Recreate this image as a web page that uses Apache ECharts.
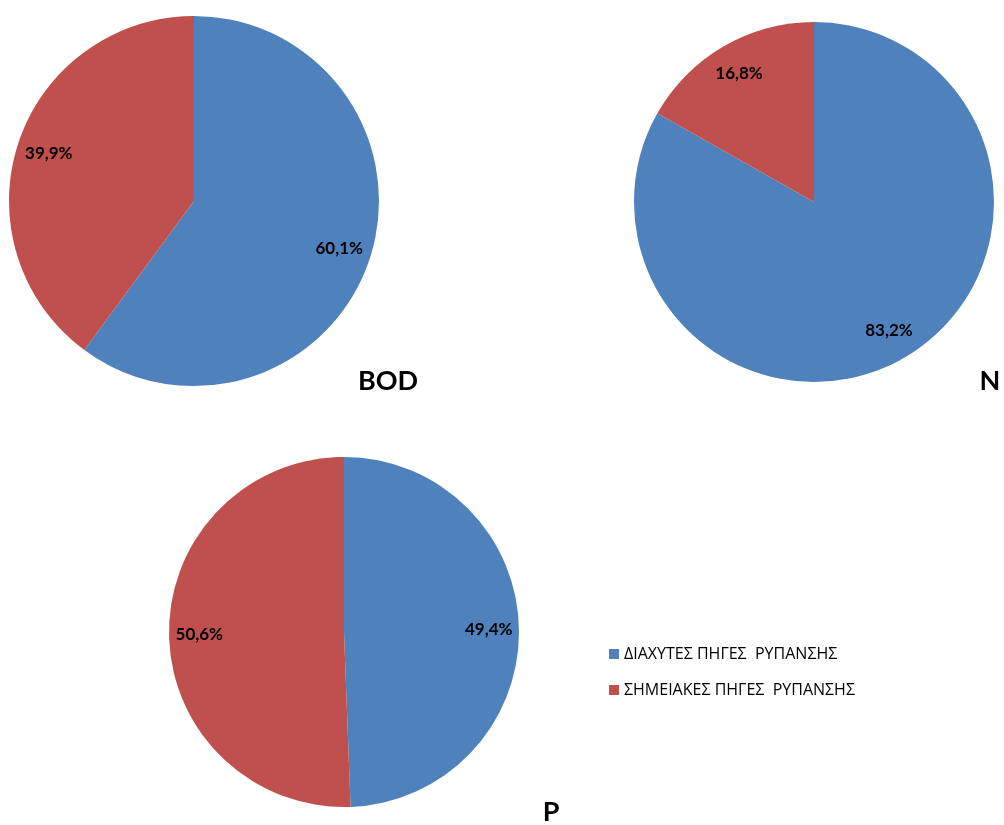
<!DOCTYPE html>
<html>
<head>
<meta charset="utf-8">
<title>BOD N P</title>
<script src="https://cdn.jsdelivr.net/npm/echarts@6/dist/echarts.min.js"></script>
<style>
  html, body { margin: 0; padding: 0; background: #fff; }
  #chart { width: 1004px; height: 825px; }
</style>
</head>
<body>
<div id="chart"></div>
<script>
// sources of pollution (legend / slice names)
const categories = ['ΔΙΑΧΥΤΕΣ ΠΗΓΕΣ  ΡΥΠΑΝΣΗΣ', 'ΣΗΜΕΙΑΚΕΣ ΠΗΓΕΣ  ΡΥΠΑΝΣΗΣ'];
// shares in %
const bodValues = [60.1, 39.9];
const nValues = [83.2, 16.8];
const pValues = [49.4, 50.6];
const pieTitles = ['BOD', 'N', 'P'];

const colors = ['#4F81BD', '#C0504D'];

// layout of each pie: center, radius, title position
const pies = [
  { values: bodValues, center: [194, 201], r: 185, title: [388, 381] },
  { values: nValues, center: [814, 202], r: 180, title: [990, 381] },
  { values: pValues, center: [344, 632], r: 175, title: [551, 812] }
];

const toData = (vals) => vals.map((v, i) => ({ name: categories[i], value: v }));
const fmt = (p) => p.value.toFixed(1).replace('.', ',') + '%';

const series = [];
// the pies themselves
pies.forEach((p) => {
  series.push({
    type: 'pie',
    center: p.center,
    radius: p.r,
    startAngle: 90,
    clockwise: true,
    silent: true,
    animation: false,
    label: { show: false },
    labelLine: { show: false },
    itemStyle: { borderWidth: 0 },
    data: toData(p.values)
  });
});
// transparent ring just for the labels, so they sit at ~0.8 r like excel
pies.forEach((p) => {
  series.push({
    type: 'pie',
    center: p.center,
    radius: [p.r * 0.62, p.r],
    startAngle: 90,
    clockwise: true,
    silent: true,
    animation: false,
    itemStyle: { color: 'rgba(0,0,0,0)' },
    label: {
      show: true,
      position: 'inside',
      formatter: fmt,
      color: '#000',
      fontFamily: 'Lato',
      fontWeight: 'bold',
      fontSize: 17
    },
    labelLine: { show: false },
    data: toData(p.values)
  });
});

const chart = echarts.init(document.getElementById('chart'));
chart.setOption({
  color: colors,
  animation: false,
  legend: {
    orient: 'vertical',
    left: 604,
    top: 641,
    itemWidth: 10,
    itemHeight: 10,
    itemGap: 20,
    icon: 'rect',
    selectedMode: false,
    data: categories,
    textStyle: { fontFamily: 'Open Sans', fontSize: 16, color: '#000' }
  },
  graphic: pies.map((p, i) => ({
    type: 'text',
    x: p.title[0],
    y: p.title[1],
    style: {
      text: pieTitles[i],
      fontFamily: 'Lato',
      fontWeight: 'bold',
      fontSize: 27,
      fill: '#000',
      textAlign: 'center',
      textVerticalAlign: 'middle'
    }
  })),
  series: series
});
</script>
</body>
</html>
